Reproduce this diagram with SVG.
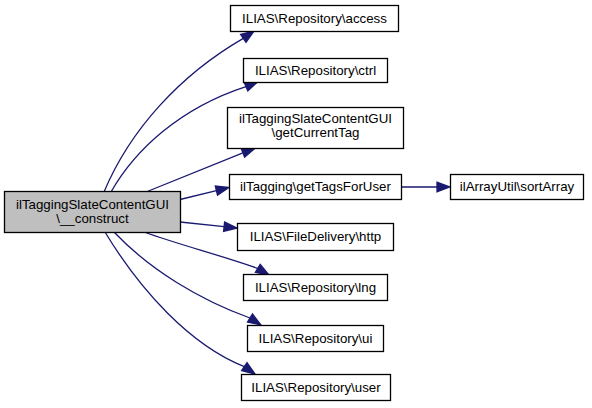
<svg xmlns="http://www.w3.org/2000/svg" width="592" height="408" viewBox="0 0 592 408">
<style>
.n{fill:#ffffff;stroke:#000000;stroke-width:1.3}
.m{fill:#bfbfbf;stroke:#000000;stroke-width:1.3}
.t{font-family:"Liberation Sans",Arial,sans-serif;font-size:13.3px;fill:#000000;text-anchor:middle}
.e{fill:none;stroke:#191970;stroke-width:1.3}
.a{fill:#191970;stroke:#191970;stroke-width:1.3}
</style>
<rect width="592" height="408" fill="#ffffff"/>
<g id="edges">
<path class="e" d="M104,192 C130,130 180,75 243.3,38.4"/>
<polygon class="a" points="254,31 246,42.3 240.6,34.5"/>
<path class="e" d="M111,192 C135,150 180,108 246,86.6"/>
<polygon class="a" points="258,81.5 247.8,90.9 244.2,82.3"/>
<path class="e" d="M146,192 L242.9,152.9"/>
<polygon class="a" points="255,148.3 244.6,157.2 241.2,148.5"/>
<path class="e" d="M180,199.5 L216.4,190.6"/>
<polygon class="a" points="229,187.5 217.5,195.2 215.3,186"/>
<path class="e" d="M401,187 L437,187"/>
<polygon class="a" points="450,187 437,191.7 437,182.3"/>
<path class="e" d="M180,222 L224.1,226.6"/>
<polygon class="a" points="237,228 223.6,231.3 224.6,221.9"/>
<path class="e" d="M144,232 C180,245 220,255 257.8,268.4"/>
<polygon class="a" points="269,275 255.4,272.4 260.2,264.4"/>
<path class="e" d="M114,232 C150,270 200,300 250,318"/>
<polygon class="a" points="261,325 247.5,322 252.5,314"/>
<path class="e" d="M105,232 C140,290 190,345 244.3,366.6"/>
<polygon class="a" points="255,374 241.6,370.5 247,362.7"/>
</g>
<g id="node-main">
<rect class="m" x="4.5" y="191.5" width="176" height="41"/>
<text class="t" x="92.5" y="209">ilTaggingSlateContentGUI</text>
<text class="t" x="92.5" y="222.5">\__construct</text>
</g>
<g id="node-access">
<rect class="n" x="230.5" y="5.5" width="168" height="26"/>
<text class="t" x="314.5" y="23">ILIAS\Repository\access</text>
</g>
<g id="node-ctrl">
<rect class="n" x="243.5" y="58.5" width="144" height="24"/>
<text class="t" x="315.5" y="75">ILIAS\Repository\ctrl</text>
</g>
<g id="node-getCurrentTag">
<rect class="n" x="227.5" y="107.5" width="176" height="41"/>
<text class="t" x="315.5" y="123">ilTaggingSlateContentGUI</text>
<text class="t" x="315.5" y="137">\getCurrentTag</text>
</g>
<g id="node-getTagsForUser">
<rect class="n" x="229.5" y="174.5" width="172" height="25"/>
<text class="t" x="315.5" y="191">ilTagging\getTagsForUser</text>
</g>
<g id="node-sortArray">
<rect class="n" x="450.5" y="174.5" width="133" height="25"/>
<text class="t" x="517" y="191">ilArrayUtil\sortArray</text>
</g>
<g id="node-http">
<rect class="n" x="237.5" y="223.5" width="156" height="27"/>
<text class="t" x="315.5" y="241">ILIAS\FileDelivery\http</text>
</g>
<g id="node-lng">
<rect class="n" x="243.5" y="274.5" width="144" height="26"/>
<text class="t" x="315.5" y="292">ILIAS\Repository\lng</text>
</g>
<g id="node-ui">
<rect class="n" x="247.5" y="325.5" width="136" height="26"/>
<text class="t" x="315.5" y="343">ILIAS\Repository\ui</text>
</g>
<g id="node-user">
<rect class="n" x="241.5" y="374.5" width="149" height="26"/>
<text class="t" x="316" y="392">ILIAS\Repository\user</text>
</g>
</svg>
